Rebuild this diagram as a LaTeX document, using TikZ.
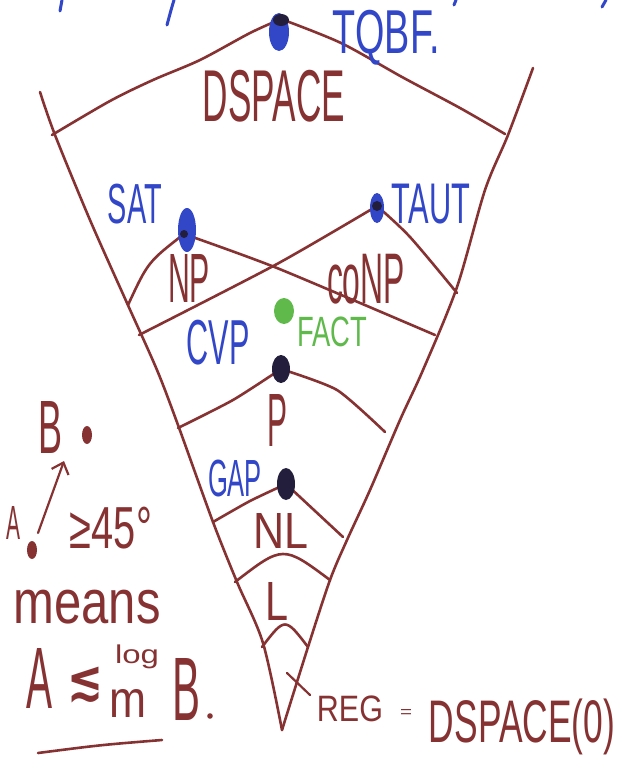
\documentclass[tikz,border=0pt]{standalone}
\usepackage{fontspec}
\setmainfont{Liberation Sans}
\newfontfamily\dvfont{DejaVu Sans}
\usepackage{graphicx}
\usetikzlibrary{arrows.meta}
\definecolor{mar}{RGB}{135,50,50}
\definecolor{ink}{RGB}{50,70,200}
\definecolor{grn}{RGB}{95,185,75}
\definecolor{dotc}{RGB}{35,30,60}
\newcommand{\hw}[3]{\resizebox*{#1pt}{#2pt}{#3}}
\begin{document}
\begin{tikzpicture}[x=1pt,y=-1pt,
  line/.style={draw=mar,line width=2.6pt,line cap=round,line join=round},
  lab/.style={inner sep=0pt,outer sep=0pt,text=mar},
  blab/.style={lab,text=ink},
  glab/.style={lab,text=grn},
  bstroke/.style={draw=ink,line width=3pt,line cap=round}]
\useasboundingbox (0,0) rectangle (629,771);
% cut-off strokes at the top edge
\draw[bstroke] (62,0) -- (60,11);
\draw[bstroke] (174,0) .. controls (171,10) .. (167,25);
\draw[bstroke] (456,0) -- (454,5);
\draw[bstroke] (606,0) -- (602,7);
% the big V
\coordinate (vL) at (40,92);
\coordinate (vR) at (533,68);
\coordinate (apex) at (282,730);
\draw[line] plot[smooth,tension=0.5] coordinates {(vL) (55,135) (90,220) (127,303) (157,370) (178,425) (213,522) (237,582) (263,643) (apex)};
\draw[line] plot[smooth,tension=0.5] coordinates {(vR) (508,135) (485,190) (457,287) (423,370) (400,420) (370,490) (347,540) (330,580) (308,647) (apex)};
% PSPACE boundary
\coordinate (topd) at (281,19);
\draw[line] plot[smooth,tension=0.5] coordinates {(52,135) (110,101) (153,80) (200,60) (250,33) (topd)};
\draw[line] plot[smooth,tension=0.5] coordinates {(topd) (341,43) (402,77) (460,108) (505,134)};
% NP
\coordinate (sat) at (184,234);
\draw[line] (128,305) .. controls (148,262) .. (sat);
\draw[line] plot[smooth,tension=0.4] coordinates {(sat) (277,268) (435,335)};
% coNP
\coordinate (taut) at (377,206);
\draw[line] plot[smooth,tension=0.4] coordinates {(139,335) (277,264) (taut)};
\draw[line] plot[smooth,tension=0.5] coordinates {(taut) (410,237) (457,293)};
% P
\coordinate (pd) at (281,369);
\draw[line] plot[smooth,tension=0.4] coordinates {(178,428) (233,400) (pd)};
\draw[line] plot[smooth,tension=0.4] coordinates {(pd) (337,390) (385,432)};
% NL
\coordinate (gd) at (286,484);
\draw[line] plot[smooth,tension=0.4] coordinates {(213,522) (250,501) (gd)};
\draw[line] (gd) -- (343,537);
% L and REG arcs
\draw[line] (235,582) .. controls (283,545) .. (330,580);
\draw[line] (262,647) .. controls (285,617) .. (308,647);
\draw[line,line width=2.2pt] (287,673) -- (310,695);
% dots
\fill[ink] (279,32) ellipse [x radius=10,y radius=19];
\fill[dotc] (281,20) ellipse [x radius=8,y radius=6];
\fill[ink] (187,230) ellipse [x radius=9,y radius=22];
\fill[dotc] (184,234) circle (4);
\fill[ink] (377,208) ellipse [x radius=7,y radius=15];
\fill[dotc] (377,206) circle (5);
\fill[grn] (284,311) ellipse [x radius=10,y radius=13];
\fill[dotc] (pd) ellipse [x radius=9,y radius=14];
\fill[dotc] (gd) ellipse [x radius=9,y radius=16];
% labels in the cone
\node[blab] (tqbf) at (386,38) {\hw{107}{55}{TQBF.}};
\node[lab] (pspace) at (274,96) {\hw{142}{52}{DSPACE}};
\node[blab] (satl) at (135,204) {\hw{54}{40}{SAT}};
\node[blab] (tautl) at (431,204) {\hw{78}{40}{TAUT}};
\node[lab] (np) at (189,278) {\hw{42}{48}{NP}};
\node[lab] (conp) at (366,279) {\hw{78}{50}{coNP}};
\node[blab] (cvp) at (218,343) {\hw{63}{45}{CVP}};
\node[glab] (fact) at (332,332) {\hw{70}{30}{FACT}};
\node[lab] (pl) at (277,420) {\hw{20}{52}{P}};
\node[blab] (gap) at (235,478) {\hw{54}{37}{GAP}};
\node[lab] (nl) at (281,531) {\hw{55}{35}{NL}};
\node[lab] (ll) at (277,601) {\hw{23}{38}{L}};
\node[lab] (reg) at (350,709) {\hw{66}{26}{REG}};
\node[lab] (eq) at (406,713) {\hw{12}{8}{=}};
\node[lab] (ds0) at (522,727) {\hw{186}{56}{DSPACE(0)}};
% legend
\node[lab] (bl) at (50,427) {\hw{24}{52}{B}};
\fill[mar] (87,435) ellipse [x radius=5,y radius=9];
\node[lab] (al) at (13,523) {\hw{14}{33}{A}};
\fill[mar] (32,550) ellipse [x radius=5,y radius=9];
\coordinate (arS) at (38,533);
\coordinate (arE) at (64,461);
\draw[line,line width=2.2pt,-{Straight Barb[length=10pt,width=18pt]}] (arS) -- (arE);
\node[lab] (ang) at (111,528) {\hw{82}{42}{≥45°}};
\node[lab] (means) at (87,607) {\hw{147}{34}{means}};
\node[lab] (a2) at (40,678) {\hw{26}{60}{A}};
\node[lab] (leq) at (85,685) {\hw{36}{36}{\dvfont\bfseries ≲}};
\node[lab] (logl) at (137,657) {\hw{44}{24}{log}};
\node[lab] (ml) at (128,703) {\hw{37}{28}{m}};
\node[lab] (b2) at (186,689) {\hw{28}{62}{B}};
\fill[mar] (210,716) circle (2.8);
\coordinate (u1) at (38,753);
\coordinate (u2) at (162,740);
\draw[line] (u1) .. controls (100,745) .. (u2);
\end{tikzpicture}
\end{document}
